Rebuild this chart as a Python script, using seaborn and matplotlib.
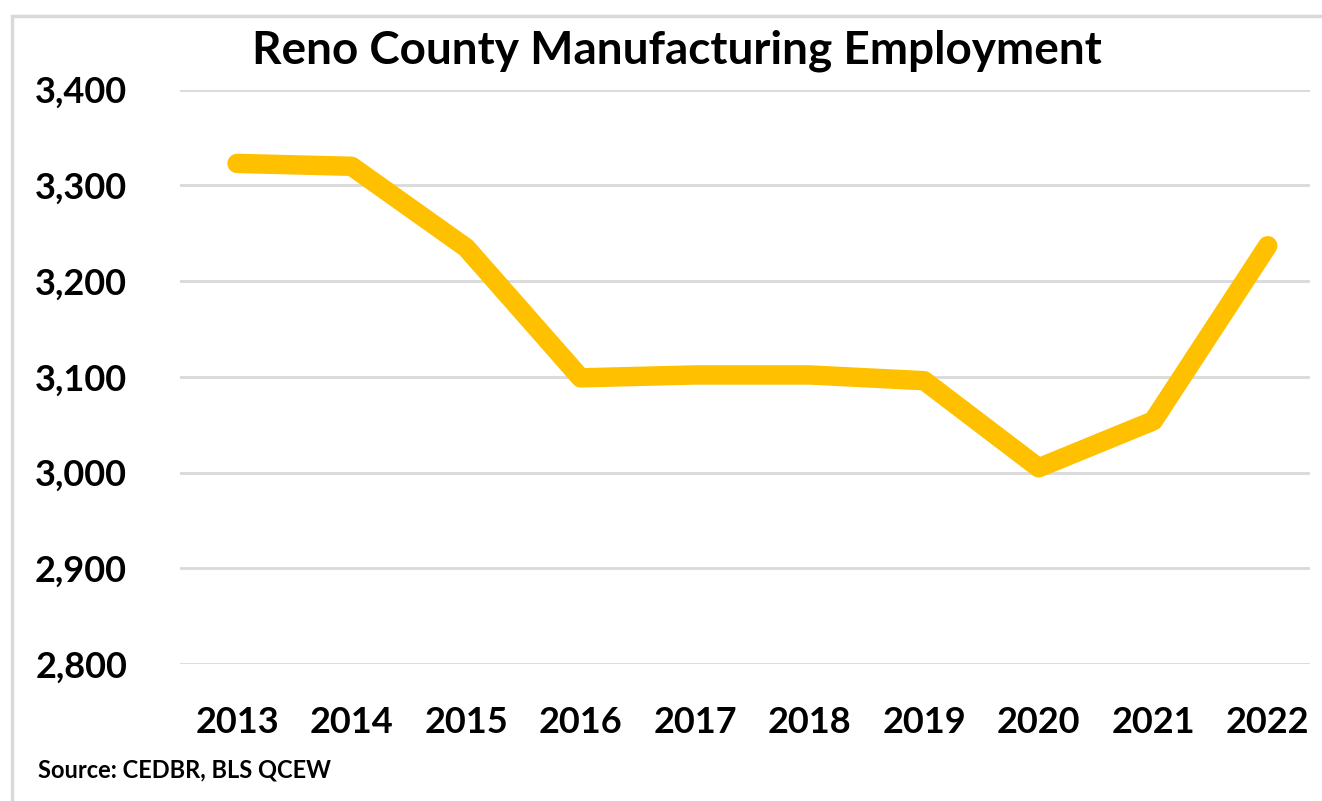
import matplotlib
matplotlib.use("Agg")
import matplotlib.pyplot as plt
import seaborn as sns
import pandas as pd
from matplotlib.patches import Rectangle

# data
years = [2013, 2014, 2015, 2016, 2017, 2018, 2019, 2020, 2021, 2022]
employment = [3323, 3320, 3235, 3099, 3102, 3102, 3096, 3005, 3054, 3237]
y_ticks = [2800, 2900, 3000, 3100, 3200, 3300, 3400]

df = pd.DataFrame({"year": years, "employment": employment})

sns.set_theme(style="white")
plt.rcParams["font.family"] = ["Lato", "DejaVu Sans"]
plt.rcParams["font.weight"] = "bold"
plt.rcParams["text.color"] = "black"
plt.rcParams["xtick.color"] = "black"
plt.rcParams["ytick.color"] = "black"

fig = plt.figure(figsize=(13.22, 8.01), dpi=100)
ax = fig.add_axes([0.136, 0.171, 0.855, 0.717])

sns.lineplot(data=df, x="year", y="employment", ax=ax, color="#FFC000",
             linewidth=14, solid_capstyle="round", solid_joinstyle="round", zorder=3)

ax.set_ylim(2800, 3400)
ax.set_xlim(2012.5, 2022.37)
ax.set_yticks(y_ticks)
ax.set_yticklabels([f"{v:,}" for v in y_ticks])
ax.set_xticks(years)
ax.set_xticklabels([str(y) for y in years])
ax.yaxis.grid(True, color="#D9D9D9", linewidth=2)
ax.xaxis.grid(False)
for s in ax.spines.values():
    s.set_visible(False)
ax.tick_params(axis="y", labelsize=26, pad=38, length=0, labelcolor="black")
ax.tick_params(axis="x", labelsize=26, pad=30, length=0, labelcolor="black")
for lab in ax.get_xticklabels() + ax.get_yticklabels():
    lab.set_fontweight("bold")
ax.set_xlabel("")
ax.set_ylabel("")

fig.text(0.512, 0.937, "Reno County Manufacturing Employment", ha="center", va="center",
         fontsize=33, fontweight="bold", color="black")
fig.text(0.029, 0.039, "Source: CEDBR, BLS QCEW", ha="left", va="center",
         fontsize=17, fontweight="bold", color="black")

fig.patches.append(Rectangle((0.009, -0.02), 1.0, 1.0, transform=fig.transFigure,
                             fill=False, edgecolor="#D9D9D9", linewidth=2.5))

fig.savefig("out.png", dpi=100)
